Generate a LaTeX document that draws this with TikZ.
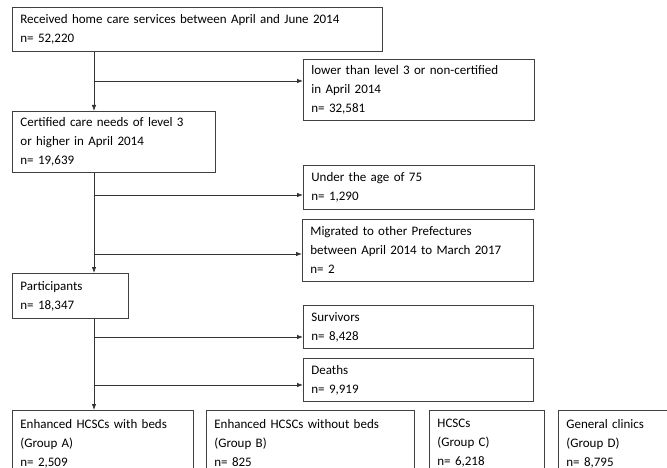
\documentclass[tikz,border=0pt]{standalone}
\usepackage{fontspec}
\setmainfont{Carlito}
\usetikzlibrary{arrows.meta}

\tikzset{
	box/.style = {draw = black!75, line width = 0.8pt, anchor = north west, align = left,
		inner xsep = 8pt, inner ysep = 0pt, font = \fontsize{13}{19}\selectfont},
	flow/.style = {draw = black!80, line width = 0.8pt, -{Latex[length = 6pt, width = 4.5pt]}},
}

\begin{document}
\begin{tikzpicture}[x = 1pt, y = -1pt]
	\def\xTRUNK{94};

	\useasboundingbox (0,0) rectangle (667,468);
	\clip (0,0) rectangle (667,468);

	\coordinate (trunk) at (\xTRUNK,0);

	\node [box, text width = 354pt, minimum height = 44pt] (recv) at (12,7)
		{Received home care services between April and June 2014\\n= 52,220};
	\node [box, text width = 215pt, minimum height = 61pt] (lower) at (303,59)
		{lower than level 3 or non-certified\\in April 2014\\n= 32,581};
	\node [box, text width = 187pt, minimum height = 61pt] (cert) at (12,111)
		{Certified care needs of level 3\\or higher in April 2014\\n= 19,639};
	\node [box, text width = 215pt, minimum height = 44pt] (under) at (303,165)
		{Under the age of 75\\n= 1,290};
	\node [box, text width = 215pt, minimum height = 62pt] (migr) at (302,219)
		{Migrated to other Prefectures\\between April 2014 to March 2017\\n= 2};
	\node [box, text width = 100pt, minimum height = 45pt] (part) at (12,273)
		{Participants\\n= 18,347};
	\node [box, text width = 214pt, minimum height = 43pt] (surv) at (303,305)
		{Survivors\\n= 8,428};
	\node [box, text width = 214pt, minimum height = 43pt] (death) at (303,358)
		{Deaths\\n= 9,919};

	% groups
	\node [box, text width = 165pt, minimum height = 66pt] (grpA) at (12,410)
		{Enhanced HCSCs with beds\\(Group A)\\n= 2,509};
	\node [box, text width = 192pt, minimum height = 66pt] (grpB) at (206,410)
		{Enhanced HCSCs without beds\\(Group B)\\n= 825};
	\node [box, text width = 99pt, minimum height = 66pt] (grpC) at (429,410)
		{HCSCs\\(Group C)\\n= 6,218};
	\node [box, text width = 93pt, minimum height = 66pt] (grpD) at (558,410)
		{General clinics\\(Group D)\\n= 8,795};

	\coordinate (br1) at (\xTRUNK,81);
	\coordinate (br2) at (\xTRUNK,195);
	\coordinate (br3) at (\xTRUNK,254);
	\coordinate (br4) at (\xTRUNK,337);
	\coordinate (br5) at (\xTRUNK,385);

	\draw [flow] (recv.south -| trunk) -- (cert.north -| trunk);
	\draw [flow] (br1) -- (br1 -| lower.west);
	\draw [flow] (cert.south -| trunk) -- (part.north -| trunk);
	\draw [flow] (br2) -- (br2 -| under.west);
	\draw [flow] (br3) -- (br3 -| migr.west);
	\draw [flow] (part.south -| trunk) -- (grpA.north -| trunk);
	\draw [flow] (br4) -- (br4 -| surv.west);
	\draw [flow] (br5) -- (br5 -| death.west);
\end{tikzpicture}
\end{document}
